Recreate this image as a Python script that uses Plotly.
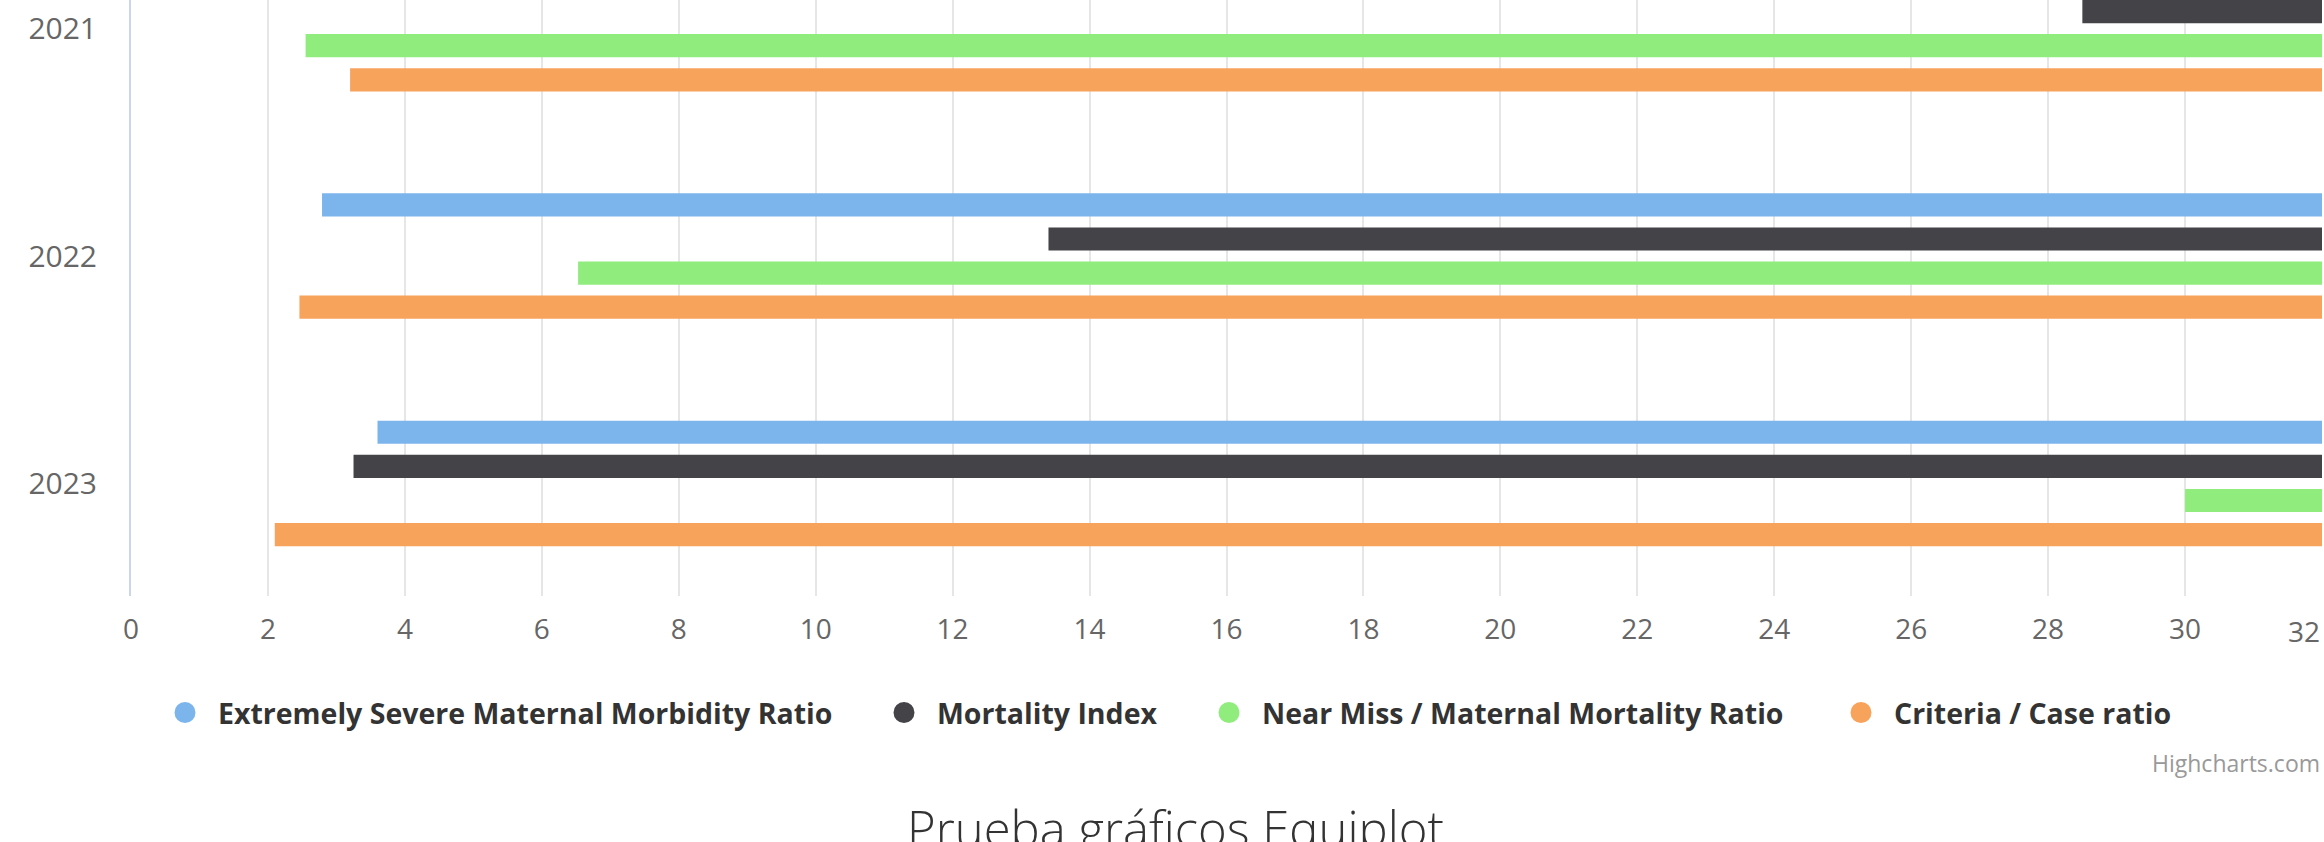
import plotly.graph_objects as go

# ---- data ----
years = ["2021", "2022", "2023"]
series_names = [
    "Extremely Severe Maternal Morbidity Ratio",
    "Mortality Index",
    "Near Miss / Maternal Mortality Ratio",
    "Criteria / Case ratio",
]
series_colors = ["#7cb5ec", "#434348", "#90ed7d", "#f7a35c"]
esmm_low = [2.9, 2.79, 3.6]
mort_low = [28.5, 13.4, 3.25]
nearmiss_low = [2.55, 6.53, 30.0]
criteria_low = [3.2, 2.46, 2.1]
esmm_high = [32, 32, 32]
mort_high = [32, 32, 32]
nearmiss_high = [32, 32, 32]
criteria_high = [32, 32, 32]
x_ticks = list(range(0, 31, 2))
x_max = 32

lows = [esmm_low, mort_low, nearmiss_low, criteria_low]
highs = [esmm_high, mort_high, nearmiss_high, criteria_high]

W, H = 2324, 842
plot_left, plot_right, plot_bottom = 131, 2322, 596
plot_w = plot_right - plot_left


def py(page_y):
    return (plot_bottom - page_y) / plot_bottom


def px(page_x):
    return (page_x - plot_left) / plot_w


fig = go.Figure()
for name, color, lo, hi in zip(series_names, series_colors, lows, highs):
    fig.add_trace(go.Bar(
        y=years, x=[h - l for h, l in zip(hi, lo)], base=lo,
        orientation="h", name=name, marker=dict(color=color, line=dict(width=0)),
        showlegend=False,
    ))

legend_ids = ["legend", "legend2", "legend3", "legend4"]
legend_circle_x = [185, 904, 1229, 1861]
for name, color, lid in zip(series_names, series_colors, legend_ids):
    fig.add_trace(go.Scatter(
        x=[None], y=[None], mode="markers", name=name, legend=lid,
        marker=dict(color=color, size=16, symbol="circle",
                    line=dict(color=color, width=5)),
        showlegend=True,
    ))

legend_common = dict(
    orientation="h", xanchor="left", y=py(713), yanchor="middle",
    font=dict(family="Open Sans", size=28.5, color="#333333", weight="bold"),
    itemsizing="trace", itemwidth=56, bgcolor="rgba(0,0,0,0)", borderwidth=0,
)
legend_layout = {}
for lid, cx in zip(legend_ids, legend_circle_x):
    legend_layout[lid] = dict(legend_common, x=px(cx - 33))

fig.update_layout(
    width=W, height=H,
    margin=dict(l=plot_left, r=W - plot_right, t=0, b=H - plot_bottom, pad=0),
    paper_bgcolor="white", plot_bgcolor="white",
    barmode="group", bargap=0.40, bargroupgap=0.32,
    font=dict(family="Open Sans", color="#666666"),
    showlegend=True,
    xaxis=dict(
        range=[0, x_max], tickvals=x_ticks, showgrid=True, gridcolor="#e6e6e6",
        gridwidth=2, zeroline=False, showline=False, automargin=False,
        tickfont=dict(size=28, color="#666666"), ticklabelstandoff=14,
    ),
    yaxis=dict(
        type="category", categoryorder="array", categoryarray=years,
        range=[2.495, -0.126], showgrid=False, zeroline=False, automargin=False,
        showline=True, linecolor="#ccd6eb", linewidth=2,
        tickfont=dict(size=30, color="#666666"), ticklabelstandoff=26,
    ),
    annotations=[
        dict(text="32", x=1, xref="paper", xanchor="right", y=py(631), yref="paper",
             yanchor="middle", showarrow=False, font=dict(size=28, color="#666666")),
        dict(text="Highcharts.com", x=1, xref="paper", xanchor="right", y=py(763),
             yref="paper", yanchor="middle", showarrow=False,
             font=dict(size=23, color="#999999")),
        dict(text="Prueba gráficos Equiplot", x=px(1175), xref="paper", xanchor="center",
             y=py(828), yref="paper", yanchor="middle", showarrow=False,
             font=dict(family="Open Sans", size=49, color="#333333", weight=300)),
    ],
    **legend_layout,
)

fig.write_html(
    "out.html",
    config={"displayModeBar": False},
    post_script="document.body.style.margin='0';document.body.style.overflow='hidden';",
)
